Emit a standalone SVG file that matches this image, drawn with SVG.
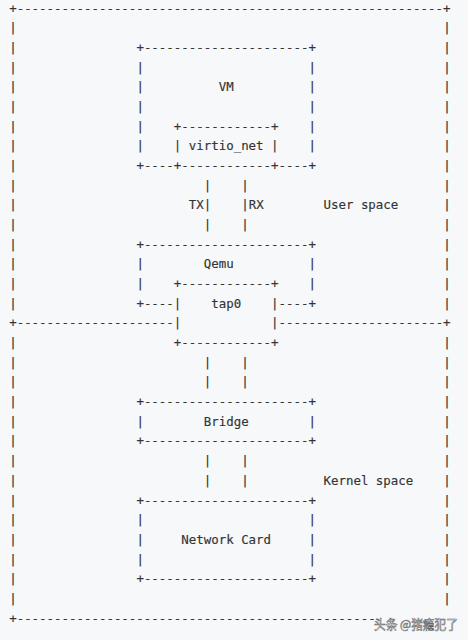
<svg xmlns="http://www.w3.org/2000/svg" width="468" height="640" viewBox="0 0 468 640">
<style>
.t{font-family:"DejaVu Sans Mono","Liberation Mono",monospace;font-size:12.43px;fill:#333;stroke:#333;stroke-width:0.15}
.wm{font-family:"Noto Sans CJK SC",sans-serif;font-size:13px;fill:#ffffff;stroke:#6a6a6a;stroke-width:0.6}
</style>
<rect x="0" y="0" width="468" height="640" fill="#f6f8fa"/>
<g id="frame">
<text class="t" x="9.2" y="12.5">+---------------------------------------------------------+</text>
<text class="t" x="9.2" y="32.18">|</text><text class="t" x="9.2" y="51.86">|</text><text class="t" x="9.2" y="71.54">|</text><text class="t" x="9.2" y="91.22">|</text><text class="t" x="9.2" y="110.9">|</text><text class="t" x="9.2" y="130.58">|</text><text class="t" x="9.2" y="150.26">|</text><text class="t" x="9.2" y="169.94">|</text><text class="t" x="9.2" y="189.62">|</text><text class="t" x="9.2" y="209.3">|</text><text class="t" x="9.2" y="228.98">|</text><text class="t" x="9.2" y="248.66">|</text><text class="t" x="9.2" y="268.34">|</text><text class="t" x="9.2" y="288.02">|</text><text class="t" x="9.2" y="307.7">|</text>
<text class="t" x="9.2" y="347.06">|</text><text class="t" x="9.2" y="366.74">|</text><text class="t" x="9.2" y="386.42">|</text><text class="t" x="9.2" y="406.1">|</text><text class="t" x="9.2" y="425.78">|</text><text class="t" x="9.2" y="445.46">|</text><text class="t" x="9.2" y="465.14">|</text><text class="t" x="9.2" y="484.82">|</text><text class="t" x="9.2" y="504.5">|</text><text class="t" x="9.2" y="524.18">|</text><text class="t" x="9.2" y="543.86">|</text><text class="t" x="9.2" y="563.54">|</text><text class="t" x="9.2" y="583.22">|</text><text class="t" x="9.2" y="602.9">|</text>
<text class="t" x="443.21" y="32.18">|</text><text class="t" x="443.21" y="51.86">|</text><text class="t" x="443.21" y="71.54">|</text><text class="t" x="443.21" y="91.22">|</text><text class="t" x="443.21" y="110.9">|</text><text class="t" x="443.21" y="130.58">|</text><text class="t" x="443.21" y="150.26">|</text><text class="t" x="443.21" y="169.94">|</text><text class="t" x="443.21" y="189.62">|</text><text class="t" x="443.21" y="209.3">|</text><text class="t" x="443.21" y="228.98">|</text><text class="t" x="443.21" y="248.66">|</text><text class="t" x="443.21" y="268.34">|</text><text class="t" x="443.21" y="288.02">|</text><text class="t" x="443.21" y="307.7">|</text>
<text class="t" x="443.21" y="347.06">|</text><text class="t" x="443.21" y="366.74">|</text><text class="t" x="443.21" y="386.42">|</text><text class="t" x="443.21" y="406.1">|</text><text class="t" x="443.21" y="425.78">|</text><text class="t" x="443.21" y="445.46">|</text><text class="t" x="443.21" y="465.14">|</text><text class="t" x="443.21" y="484.82">|</text><text class="t" x="443.21" y="504.5">|</text><text class="t" x="443.21" y="524.18">|</text><text class="t" x="443.21" y="543.86">|</text><text class="t" x="443.21" y="563.54">|</text><text class="t" x="443.21" y="583.22">|</text><text class="t" x="443.21" y="602.9">|</text>
<text class="t" x="9.2" y="327.38">+---------------------</text>
<text class="t" x="278.59" y="327.38">----------------------+</text>
<text class="t" x="9.2" y="622.58">+------------------------------------------------</text>
</g>
<g id="label-user-space"><text class="t" x="323.49" y="209.3">User space</text></g>
<g id="label-kernel-space"><text class="t" x="323.49" y="484.82">Kernel space</text></g>
<g id="node-vm">
<text class="t" x="136.41" y="51.86">+----------------------+</text>
<text class="t" x="136.41" y="71.54">|</text><text class="t" x="136.41" y="91.22">|</text><text class="t" x="136.41" y="110.9">|</text><text class="t" x="136.41" y="130.58">|</text><text class="t" x="136.41" y="150.26">|</text>
<text class="t" x="308.52" y="71.54">|</text><text class="t" x="308.52" y="91.22">|</text><text class="t" x="308.52" y="110.9">|</text><text class="t" x="308.52" y="130.58">|</text><text class="t" x="308.52" y="150.26">|</text>
<text class="t" x="218.72" y="91.22">VM</text>
<text class="t" x="136.41" y="169.94">+----</text>
<text class="t" x="278.59" y="169.94">----+</text>
</g>
<g id="node-virtio-net">
<text class="t" x="173.83" y="130.58">+------------+</text>
<text class="t" x="173.83" y="150.26">|</text>
<text class="t" x="188.79" y="150.26">virtio_net</text>
<text class="t" x="271.11" y="150.26">|</text>
<text class="t" x="173.83" y="169.94">+------------+</text>
</g>
<g id="node-qemu">
<text class="t" x="136.41" y="248.66">+----------------------+</text>
<text class="t" x="136.41" y="268.34">|</text><text class="t" x="136.41" y="288.02">|</text>
<text class="t" x="308.52" y="268.34">|</text><text class="t" x="308.52" y="288.02">|</text>
<text class="t" x="203.76" y="268.34">Qemu</text>
<text class="t" x="136.41" y="307.7">+</text>
<text class="t" x="308.52" y="307.7">+</text>
</g>
<g id="node-tap0">
<text class="t" x="173.83" y="288.02">+------------+</text>
<text class="t" x="173.83" y="307.7">|</text><text class="t" x="173.83" y="327.38">|</text>
<text class="t" x="271.11" y="307.7">|</text><text class="t" x="271.11" y="327.38">|</text>
<text class="t" x="211.24" y="307.7">tap0</text>
<text class="t" x="173.83" y="347.06">+------------+</text>
</g>
<g id="node-bridge">
<text class="t" x="136.41" y="406.1">+----------------------+</text>
<text class="t" x="136.41" y="425.78">|</text>
<text class="t" x="203.76" y="425.78">Bridge</text>
<text class="t" x="308.52" y="425.78">|</text>
<text class="t" x="136.41" y="445.46">+----------------------+</text>
</g>
<g id="node-network-card">
<text class="t" x="136.41" y="504.5">+----------------------+</text>
<text class="t" x="136.41" y="524.18">|</text><text class="t" x="136.41" y="543.86">|</text><text class="t" x="136.41" y="563.54">|</text>
<text class="t" x="308.52" y="524.18">|</text><text class="t" x="308.52" y="543.86">|</text><text class="t" x="308.52" y="563.54">|</text>
<text class="t" x="181.31" y="543.86">Network Card</text>
<text class="t" x="136.41" y="583.22">+----------------------+</text>
</g>
<g id="connectors">
<text class="t" x="203.76" y="189.62">|</text><text class="t" x="203.76" y="209.3">|</text><text class="t" x="203.76" y="228.98">|</text>
<text class="t" x="241.17" y="189.62">|</text><text class="t" x="241.17" y="209.3">|</text><text class="t" x="241.17" y="228.98">|</text>
<text class="t" x="188.79" y="209.3">TX</text>
<text class="t" x="248.66" y="209.3">RX</text>
<text class="t" x="143.89" y="307.7">----</text>
<text class="t" x="278.59" y="307.7">----</text>
<text class="t" x="203.76" y="366.74">|</text><text class="t" x="203.76" y="386.42">|</text>
<text class="t" x="241.17" y="366.74">|</text><text class="t" x="241.17" y="386.42">|</text>
<text class="t" x="203.76" y="465.14">|</text><text class="t" x="203.76" y="484.82">|</text>
<text class="t" x="241.17" y="465.14">|</text><text class="t" x="241.17" y="484.82">|</text>
</g>
<g id="watermark"><text class="wm" x="374" y="629" textLength="84" lengthAdjust="spacingAndGlyphs">头条 @猪瘾犯了</text></g>
</svg>
